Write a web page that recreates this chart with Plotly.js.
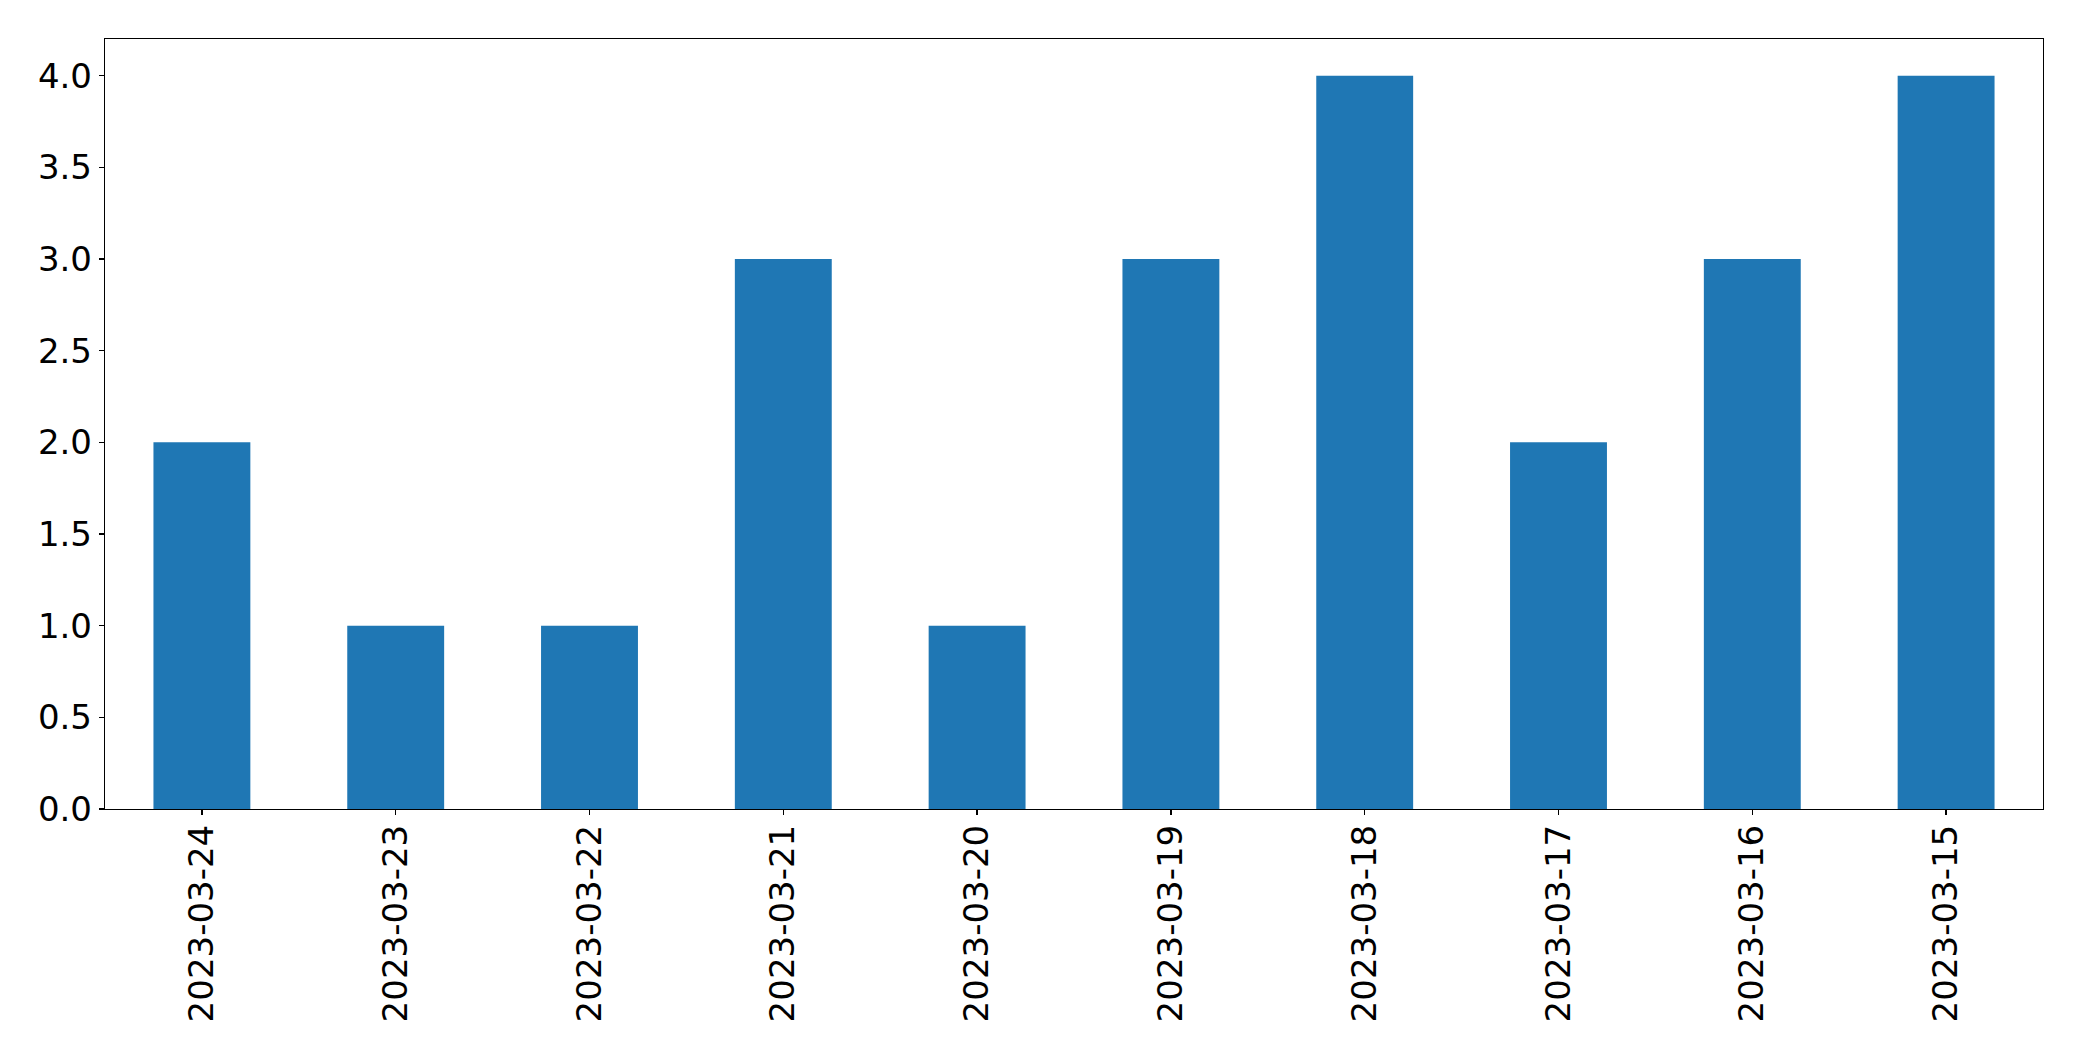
<!DOCTYPE html>
<html>
<head>
<meta charset="utf-8">
<script src="https://cdn.plot.ly/plotly-3.0.1.min.js"></script>
<style>html,body{margin:0;padding:0;background:#fff;}#chart{width:2082px;height:1061px;}</style>
</head>
<body>
<div id="chart"></div>
<script>
const dates = ["2023-03-24","2023-03-23","2023-03-22","2023-03-21","2023-03-20","2023-03-19","2023-03-18","2023-03-17","2023-03-16","2023-03-15"];
const counts = [2, 1, 1, 3, 1, 3, 4, 2, 3, 4];
const yTicks = [0, 0.5, 1, 1.5, 2, 2.5, 3, 3.5, 4];
const yTickText = ["0.0","0.5","1.0","1.5","2.0","2.5","3.0","3.5","4.0"];

const font = {family: "DejaVu Sans", size: 34, color: "#000"};
Plotly.newPlot("chart", [{
  type: "bar",
  x: dates,
  y: counts,
  width: 0.5,
  marker: {color: "#1f77b4", line: {width: 0}},
  hoverinfo: "skip"
}], {
  width: 2082, height: 1061,
  margin: {l: 105, r: 39, t: 39, b: 252, pad: 0},
  paper_bgcolor: "#fff", plot_bgcolor: "#fff",
  showlegend: false,
  font: font,
  xaxis: {
    type: "category",
    range: [-0.5, 9.5],
    tickangle: -90,
    ticks: "outside", ticklen: 5, tickwidth: 1.2, tickcolor: "#000",
    ticklabelstandoff: -4,
    showline: true, mirror: true, linecolor: "#000", linewidth: 1.2,
    showgrid: false, zeroline: false,
    tickfont: font
  },
  yaxis: {
    range: [0, 4.2],
    tickvals: yTicks, ticktext: yTickText,
    ticks: "outside", ticklen: 5, tickwidth: 1.2, tickcolor: "#000",
    ticklabelstandoff: 0,
    showline: true, mirror: true, linecolor: "#000", linewidth: 1.2,
    showgrid: false, zeroline: false,
    tickfont: font
  }
}, {staticPlot: true});
</script>
</body>
</html>
